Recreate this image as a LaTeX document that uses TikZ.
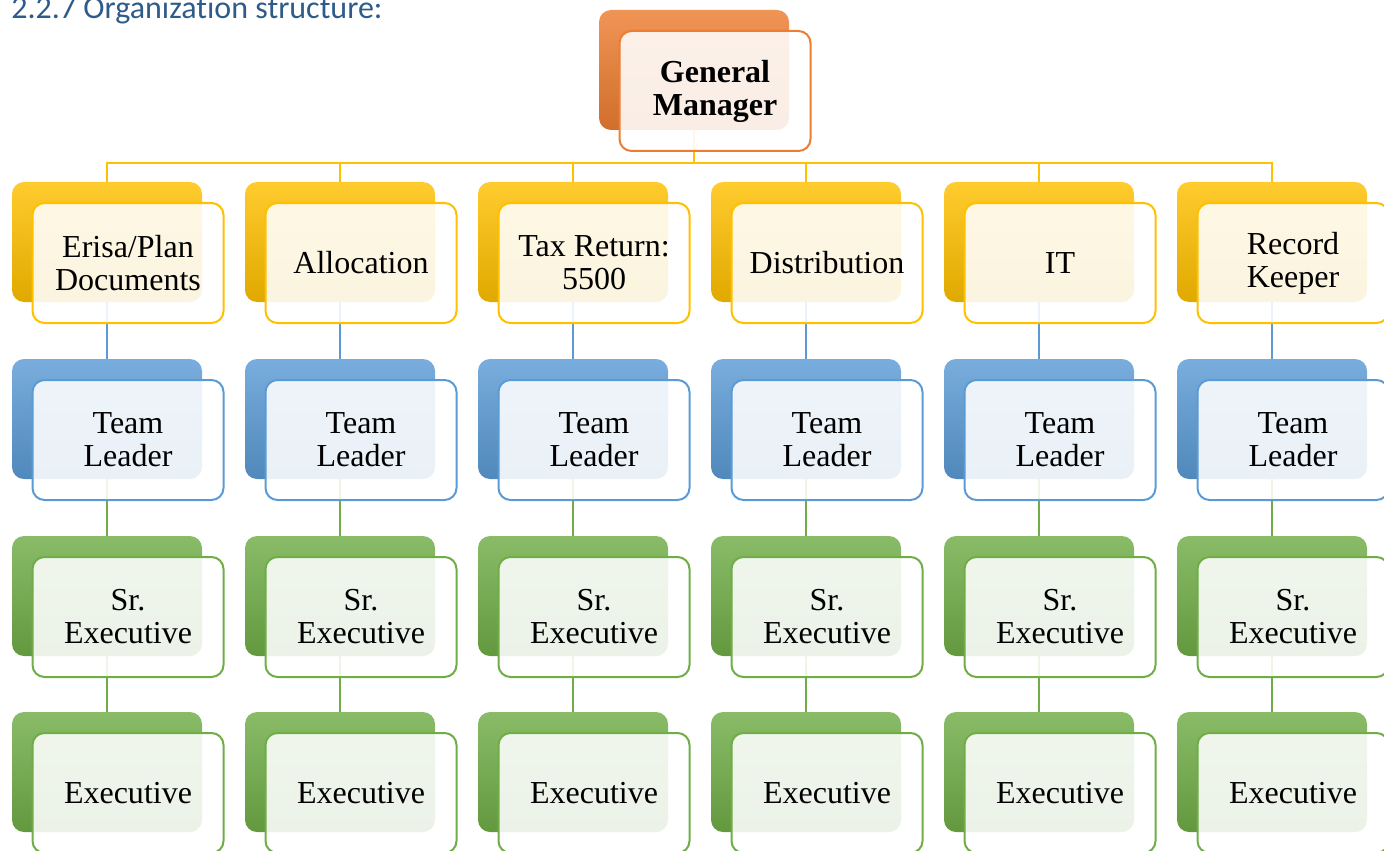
\documentclass[tikz,border=0pt]{standalone}
\usepackage{fontspec}
\setmainfont{Liberation Serif}
\newfontfamily\headfont[Ligatures=NoCommon]{Carlito}
\usetikzlibrary{calc,backgrounds}

\definecolor{gmorange}{HTML}{ED7D31}
\definecolor{areayellow}{HTML}{FFC000}
\definecolor{leadblue}{HTML}{5B9BD5}
\definecolor{execgreen}{HTML}{70AD47}
\definecolor{headblue}{HTML}{2E5C8A}

\begin{document}
\begin{tikzpicture}[x={(0.5pt,0pt)},y={(0pt,-0.5pt)},
    cardback/.style={rounded corners=6pt,minimum width=95pt,minimum height=60pt,
        top color=#1!82!white,middle color=#1,bottom color=#1!88!black},
    cardfront/.style={draw=#1,line width=1pt,fill=white,fill opacity=0.88,text opacity=1,
        rounded corners=6pt,minimum width=95.5pt,minimum height=60pt,align=center,
        font=\fontsize{16}{16.5}\selectfont},
    link/.style={draw=#1,line width=0.9pt}]
    \useasboundingbox (0,0) rectangle (1384,850);
    \clip (0,0) rectangle (1384,850);

    \node[anchor=base west,inner sep=0pt,text=headblue,font=\headfont\fontsize{16}{16}\selectfont]
        (title) at (11,19) {2.2.7 Organization structure:};

    \node[cardback=gmorange] (gmb) at (694,70) {};
    \node[cardfront=gmorange,font=\bfseries\fontsize{16}{16.5}\selectfont] (gm) at ($(gmb)+(21,21)$) {General\\Manager};

    \foreach \dept [count=\i] in {{Erisa/Plan\\Documents},Allocation,{Tax Return:\\5500},Distribution,IT,{Record\\Keeper}}{
        \coordinate (col\i) at ({107+233*(\i-1)},0);
        \node[cardback=areayellow] (areab\i) at (col\i |- 0,242) {};
        \node[cardfront=areayellow] (area\i) at ($(areab\i)+(21,21)$) {\dept};
        \node[cardback=leadblue] (leadb\i) at (col\i |- 0,419) {};
        \node[cardfront=leadblue] (lead\i) at ($(leadb\i)+(21,21)$) {Team\\Leader};
        \node[cardback=execgreen] (srb\i) at (col\i |- 0,596) {};
        \node[cardfront=execgreen] (sr\i) at ($(srb\i)+(21,21)$) {Sr.\\Executive};
        \node[cardback=execgreen] (exb\i) at (col\i |- 0,772) {};
        \node[cardfront=execgreen] (ex\i) at ($(exb\i)+(21,21)$) {Executive};
        \begin{scope}[on background layer]
            \draw[link=areayellow] (gmb.south) -- ++(0,33) -| (areab\i.north);
            \draw[link=leadblue] (areab\i.south) -- (leadb\i.north);
            \draw[link=execgreen] (leadb\i.south) -- (srb\i.north);
            \draw[link=execgreen] (srb\i.south) -- (exb\i.north);
        \end{scope}
    }
\end{tikzpicture}
\end{document}
